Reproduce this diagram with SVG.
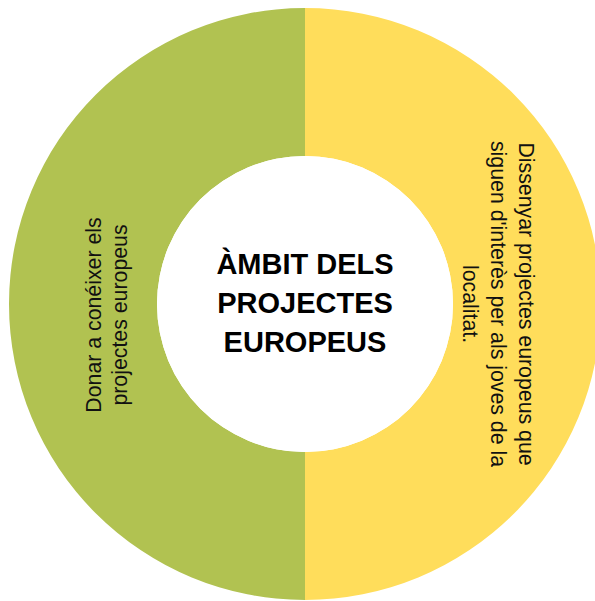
<svg xmlns="http://www.w3.org/2000/svg" width="595" height="601" viewBox="0 0 595 601">
<style>
.side{font-family:"Liberation Sans",Arial,sans-serif;font-size:21.3px;fill:#111;}
.center{font-family:"Liberation Sans",Arial,sans-serif;font-size:29px;font-weight:bold;fill:#000;}
</style>
<rect width="595" height="601" fill="#ffffff"/>
<g id="segment-left">
<path d="M305,8 A296,296 0 0 0 305,600 L305,452 A148,148 0 0 1 305,156 Z" fill="#B1C251"/>
<text class="side" transform="translate(101,315) rotate(-90)" text-anchor="middle">Donar a conéixer els</text>
<text class="side" transform="translate(127,315) rotate(-90)" text-anchor="middle">projectes europeus</text>
</g>
<g id="segment-right">
<path d="M305,8 A296,296 0 0 1 305,600 L305,452 A148,148 0 0 0 305,156 Z" fill="#FFDD5B"/>
<text class="side" transform="translate(519,304) rotate(90)" text-anchor="middle">Dissenyar projectes europeus que</text>
<text class="side" transform="translate(491,304) rotate(90)" text-anchor="middle">siguen d'interès per als joves de la</text>
<text class="side" transform="translate(463,304) rotate(90)" text-anchor="middle">localitat.</text>
</g>
<g id="center">
<circle cx="305" cy="304" r="148" fill="#ffffff"/>
<text class="center" x="305" y="274" text-anchor="middle">ÀMBIT DELS</text>
<text class="center" x="305" y="313" text-anchor="middle">PROJECTES</text>
<text class="center" x="305" y="352" text-anchor="middle">EUROPEUS</text>
</g>
<g id="connectors"></g>
</svg>
